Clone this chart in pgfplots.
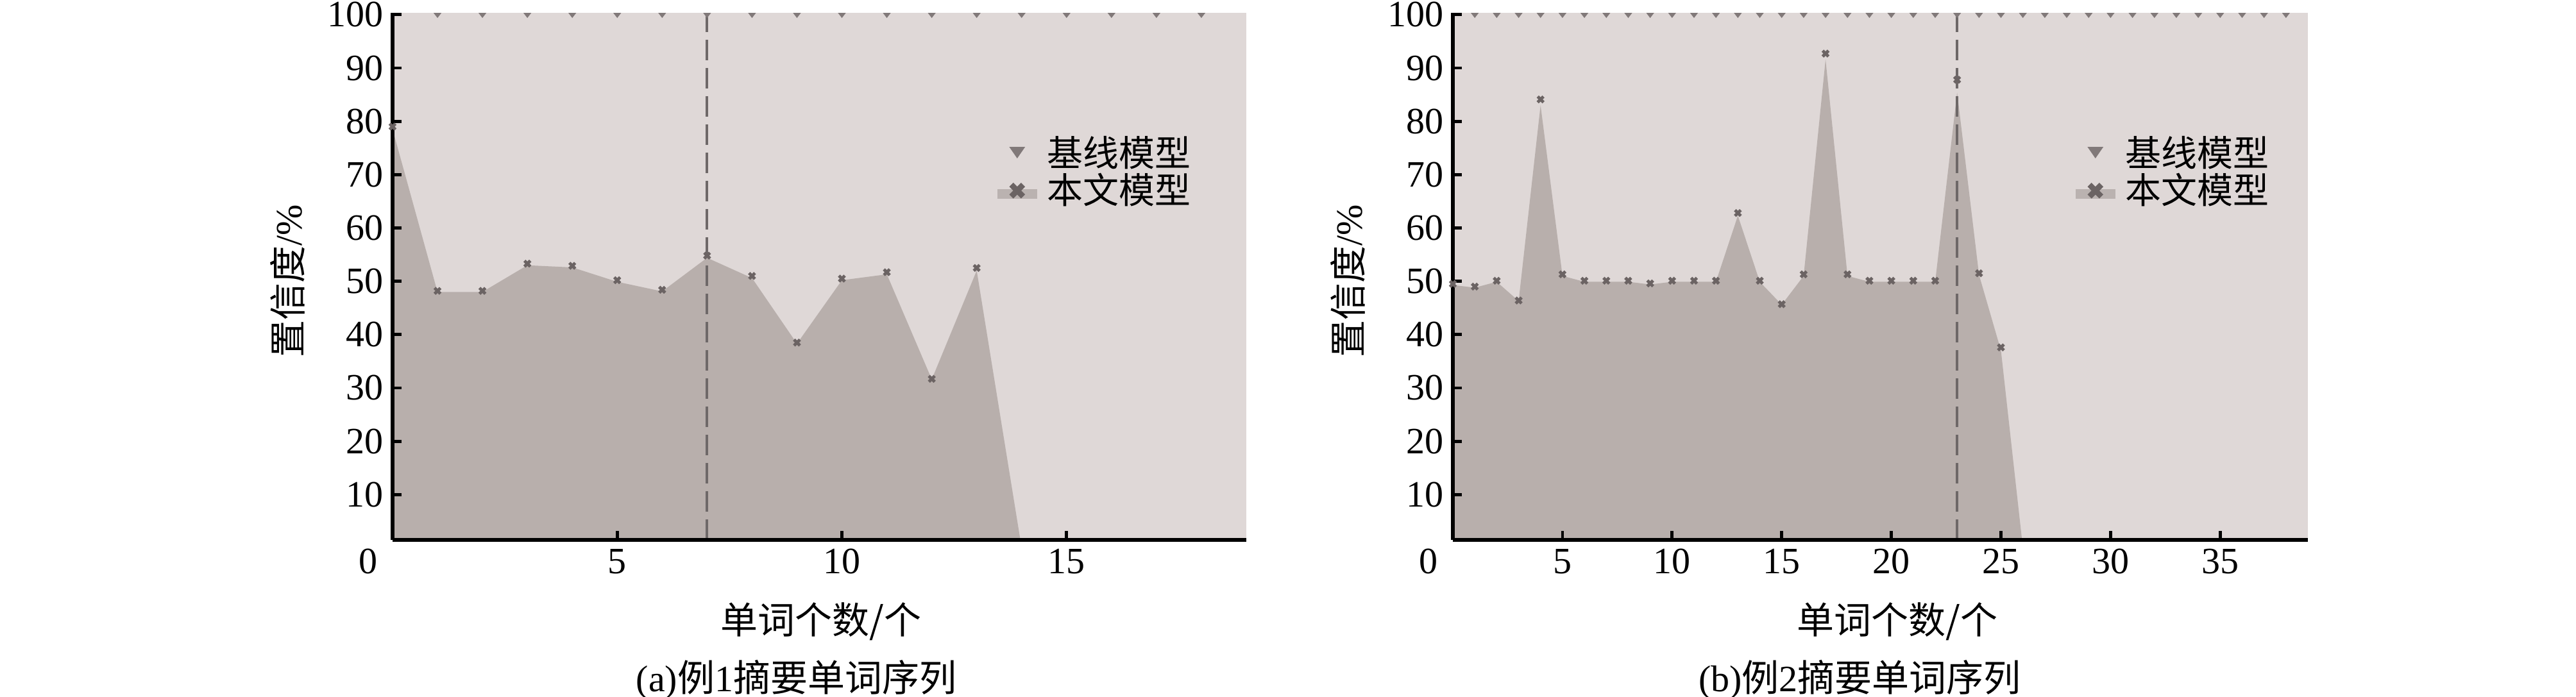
\documentclass[border=0pt]{standalone}
\usepackage{fontspec}
\setmainfont{Liberation Serif}
\newfontfamily\cjk{Noto Sans CJK SC}
\usepackage{pgfplots}
\pgfplotsset{compat=1.18}
\definecolor{bgc}{HTML}{DFD8D7}
\definecolor{areac}{HTML}{B8AFAC}
\definecolor{xc}{HTML}{6B6363}
\definecolor{tric}{HTML}{817979}
\definecolor{dashc}{HTML}{6E6868}
\definecolor{legl}{HTML}{BAB2B0}

\pgfplotstableread{
x y
0 79.0
1 48.2
2 48.2
3 53.3
4 52.9
5 50.2
6 48.4
7 54.8
8 51.0
9 38.5
10 50.5
11 51.7
12 31.7
13 52.5
}\marksA
\pgfplotstableread{
x y
0 78.5
1 48.0
2 48.0
3 53.0
4 52.6
5 49.9
6 48.1
7 54.4
8 50.6
9 38.3
10 50.2
11 51.3
12 31.6
13 52.0
14 0
}\areaA
\pgfplotstableread{
x y
0 49.5
1 49.0
2 50.1
3 46.4
4 84.1
5 51.3
6 50.1
7 50.1
8 50.1
9 49.6
10 50.1
11 50.1
12 50.1
13 62.8
14 50.1
15 45.7
16 51.3
17 92.7
18 51.3
19 50.1
20 50.1
21 50.1
22 50.1
23 87.8
24 51.5
25 37.6
}\marksB
\pgfplotstableread{
x y
0 49.3
1 48.8
2 49.9
3 46.3
4 83.0
5 51.0
6 49.9
7 49.9
8 49.9
9 49.4
10 49.9
11 49.9
12 49.9
13 62.3
14 49.9
15 45.6
16 51.0
17 91.6
18 51.0
19 49.9
20 49.9
21 49.9
22 49.9
23 85.4
24 51.2
25 37.0
26 0
}\areaB

\pgfplotsset{
  mystyle/.style={
    scale only axis, height=205.4pt,
    ymin=1.5, ymax=100.3,
    axis on top,
    axis lines*=left,
    axis line style={line width=1.5pt, black},
    axis background/.style={fill=bgc},
    tick align=inside,
    major tick length=3.5pt,
    every tick/.style={black, line width=1.2pt},
    ytick={10,20,...,100},
    tick label style={font=\fontsize{14.5}{16}\selectfont},
    /pgf/number format/assume math mode=true,
    ylabel style={at={(axis description cs:-0.1018,0.491)}, anchor=south, inner sep=0pt, font=\fontsize{14.5}{16}\selectfont},
    xlabel={{\cjk 单词个数/个}},
    ylabel={{\cjk 置信度}/\%},
    legend style={draw=none, fill=none, inner sep=0pt, outer sep=0pt,
      font=\cjk\fontsize{14}{14}\selectfont, row sep=1.2pt,
      nodes={inner sep=0pt},
      /tikz/every odd column/.style={column sep=4pt}},
    legend cell align=left,
  },
  trimark/.style={only marks, mark=triangle*, mark size=1.3pt, color=tric,
    mark options={rotate=180, yscale=0.75},
    legend image code/.code={%
      \fill[bgc, fill opacity=0] (0pt,-3pt) rectangle (14.25pt,3pt);
      \fill[tric] (4.4pt,2.3pt) -- (9.8pt,2.3pt) -- (7.1pt,-1.6pt) -- cycle;}},
  xmarks/.style={only marks, mark=x, mark size=1.6pt, color=xc, line width=1.2pt,
    legend image code/.code={%
      \fill[legl] (0pt,-2.6pt) rectangle (14.25pt,0pt);
      \draw[xc, line width=2.2pt] (4.8pt,-2.3pt) -- (9.4pt,2.3pt) (4.8pt,2.3pt) -- (9.4pt,-2.3pt);}},
}

\begin{document}
\begin{tikzpicture}
\path[use as bounding box] (0,0) rectangle (1004pt,271.75pt);

\begin{axis}[mystyle,
  at={(153pt,61.25pt)}, anchor=south west, width=332.75pt,
  xmin=0, xmax=19,
  xtick={0,5,10,15},
  xticklabels={\makebox[0pt][r]{0\kern6pt},5,10,15},
  xlabel style={at={(axis description cs:0.502,-0.1546)}, anchor=center, inner sep=0pt, font=\fontsize{14.5}{16}\selectfont},
  legend style={at={(axis description cs:0.7085,0.7660)}, anchor=north west},
  extra description/.code={\node[font=\fontsize{14.5}{16}\selectfont, anchor=center] at (0.473,-0.2654) {(a){\cjk 例}1{\cjk 摘要单词序列}};},
]
\addplot[fill=areac, draw=none, forget plot] table {\areaA} \closedcycle;
\addplot[dashc, line width=1pt, dash pattern=on 8pt off 3pt, forget plot] coordinates {(7,1.5) (7,100.3)};
\addplot[trimark] coordinates {(1,100)(2,100)(3,100)(4,100)(5,100)(6,100)(7,100)(8,100)(9,100)(10,100)(11,100)(12,100)(13,100)(14,100)(15,100)(16,100)(17,100)(18,100)};
\addlegendentry{基线模型}
\addplot[xmarks] table {\marksA};
\addlegendentry{本文模型}
\end{axis}

\begin{axis}[mystyle,
  at={(566.25pt,61.25pt)}, anchor=south west, width=333.25pt,
  xmin=0, xmax=39,
  xtick={0,5,10,15,20,25,30,35},
  xticklabels={\makebox[0pt][r]{0\kern6pt},5,10,15,20,25,30,35},
  xlabel style={at={(axis description cs:0.52,-0.1546)}, anchor=center, inner sep=0pt, font=\fontsize{14.5}{16}\selectfont},
  legend style={at={(axis description cs:0.7284,0.7660)}, anchor=north west},
  extra description/.code={\node[font=\fontsize{14.5}{16}\selectfont, anchor=center] at (0.476,-0.2654) {(b){\cjk 例}2{\cjk 摘要单词序列}};},
]
\addplot[fill=areac, draw=none, forget plot] table {\areaB} \closedcycle;
\addplot[dashc, line width=1pt, dash pattern=on 8pt off 3pt, forget plot] coordinates {(23,1.5) (23,100.3)};
\addplot[trimark] coordinates {(1,100)(2,100)(3,100)(4,100)(5,100)(6,100)(7,100)(8,100)(9,100)(10,100)(11,100)(12,100)(13,100)(14,100)(15,100)(16,100)(17,100)(18,100)(19,100)(20,100)(21,100)(22,100)(23,100)(24,100)(25,100)(26,100)(27,100)(28,100)(29,100)(30,100)(31,100)(32,100)(33,100)(34,100)(35,100)(36,100)(37,100)(38,100)};
\addlegendentry{基线模型}
\addplot[xmarks] table {\marksB};
\addlegendentry{本文模型}
\end{axis}
\end{tikzpicture}
\end{document}
